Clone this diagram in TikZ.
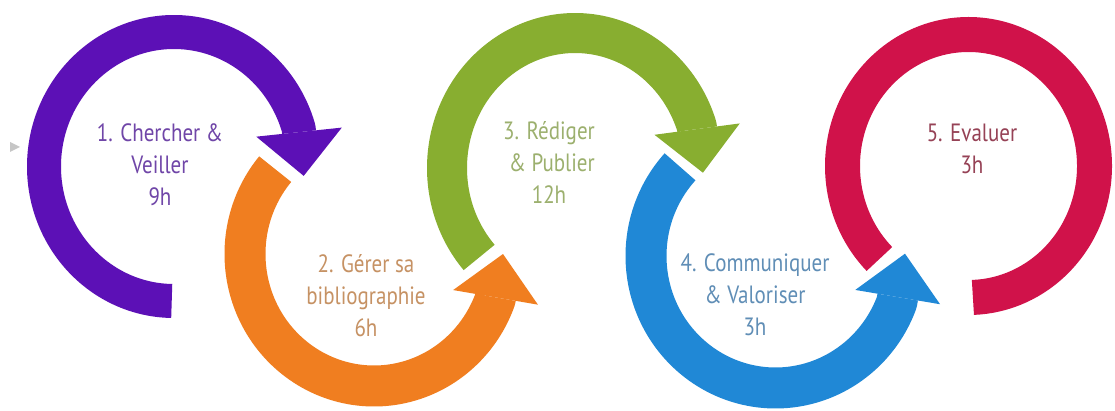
\documentclass[tikz,border=0pt]{standalone}
\usepackage{fontspec}
\setmainfont{PT Sans}[FakeStretch=0.84]
\usetikzlibrary{arrows.meta}

\definecolor{violetring}{RGB}{92,16,182}
\definecolor{orangering}{RGB}{240,126,32}
\definecolor{greenring}{RGB}{136,174,48}
\definecolor{bluering}{RGB}{32,136,214}
\definecolor{redring}{RGB}{208,18,74}
\definecolor{violettext}{RGB}{112,70,168}
\definecolor{orangetext}{RGB}{198,146,100}
\definecolor{greentext}{RGB}{156,176,110}
\definecolor{bluetext}{RGB}{96,142,182}
\definecolor{redtext}{RGB}{150,66,86}

\begin{document}
\begin{tikzpicture}[
    x=1pt, y=1pt,
    ring/.style={line cap=butt, line join=round},
    bigtip/.style={-{Triangle[width=86pt, length=44pt, line width=0pt]}},
    phase/.style={align=center, inner sep=0pt, font=\fontsize{25}{32}\selectfont}
    ]
    \useasboundingbox (0,0) rectangle (1115,410);
    \fill[white] (0,0) rectangle (1115,410);

    % ring centres
    \coordinate (c1) at (174,243.5);
    \coordinate (c2) at (374,156);
    \coordinate (c3) at (575,242);
    \coordinate (c4) at (775.5,154);
    \coordinate (c5) at (968.5,244);

    % where the arrowheads point
    \coordinate (tip1) at ([shift={(-4:130pt and 134.5pt)}]c1);
    \coordinate (tip2) at ([shift={(0:129pt and 132pt)}]c2);
    \coordinate (tip3) at ([shift={(-2:128pt and 135pt)}]c3);
    \coordinate (tip4) at ([shift={(1:129.5pt and 132pt)}]c4);

    % small grey marker on the left
    \fill[gray!45] (10,268) -- (20,263) -- (10,258) -- cycle;

    % the five rings
    \draw[ring, bigtip, violetring, line width=34pt] ([shift={(269:130pt and 134.5pt)}]c1)
        arc[start angle=269, end angle=16.5, x radius=130pt, y radius=134.5pt] -- (tip1);
    \draw[ring, bigtip, orangering, line width=41pt] ([shift={(140:129pt and 132pt)}]c2)
        arc[start angle=140, end angle=340, x radius=129pt, y radius=132pt] -- (tip2);
    \draw[ring, bigtip, greenring, line width=40pt] ([shift={(221.5:128pt and 135pt)}]c3)
        arc[start angle=221.5, end angle=18, x radius=128pt, y radius=135pt] -- (tip3);
    \draw[ring, bigtip, bluering, line width=41pt] ([shift={(137.5:129.5pt and 132pt)}]c4)
        arc[start angle=137.5, end angle=339.5, x radius=129.5pt, y radius=132pt] -- (tip4);
    \draw[ring, redring, line width=35pt] ([shift={(225:126pt and 131.5pt)}]c5)
        arc[start angle=225, end angle=-88, x radius=126pt, y radius=131.5pt];

    % texts
    \node[phase, text=violettext] (chercher) at (160,245) {1. Chercher \&\\Veiller\\9h};
    \node[phase, text=orangetext] (gerer) at (366,114) {2. Gérer sa\\bibliographie\\6h};
    \node[phase, text=greentext] (rediger) at (549,247) {3. Rédiger\\\ \& Publier\\12h};
    \node[phase, text=bluetext] (communiquer) at (755,115) {4. Communiquer\\\& Valoriser\\3h};
    \node[phase, text=redtext] (evaluer) at (972,261) {5. Evaluer\\3h};
\end{tikzpicture}
\end{document}
